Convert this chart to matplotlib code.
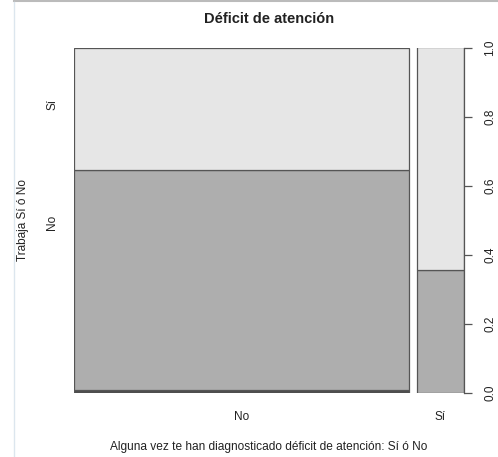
import matplotlib
matplotlib.use("Agg")
import matplotlib.pyplot as plt
from matplotlib.lines import Line2D
import numpy as np

plt.rcParams["font.family"] = ["Liberation Sans", "DejaVu Sans"]

# Counts: rows = level of "Trabaja" (blank, No, Sí), columns = déficit (No, Sí)
x_levels = ["No", "Sí"]
y_levels = ["", "No", "Sí"]
counts = np.array([
    [1, 0],    # blank / NA
    [63, 5],   # No
    [35, 9],   # Sí
])
fills = ["#4D4D4D", "#AEAEAE", "#E6E6E6"]
left_labels = ["No", "Sí"]
left_label_pos = [0.493, 0.835]
yticks = [0.0, 0.2, 0.4, 0.6, 0.8, 1.0]

GAP = 0.02
EDGE = "#555555"
INK = "#222222"

W, H = 498, 457
fig = plt.figure(figsize=(W / 100, H / 100), dpi=100)
ax = fig.add_axes([74 / W, 1 - 393 / H, 390 / W, 345.5 / H])

col_tot = counts.sum(axis=0)
widths = col_tot / col_tot.sum()
lefts = np.concatenate([[0], np.cumsum(widths[:-1] + GAP)])
props = counts / col_tot
bottoms = np.vstack([np.zeros(len(x_levels)), np.cumsum(props, axis=0)[:-1]])

for i in range(len(y_levels)):
    ax.bar(lefts, props[i], width=widths, bottom=bottoms[i], align="edge",
           color=fills[i], edgecolor=EDGE, linewidth=0.9)

ax.set_xlim(0, 1 + GAP * (len(x_levels) - 1))
ax.set_ylim(0, 1)

for s in ("top", "left", "bottom"):
    ax.spines[s].set_visible(False)
ax.spines["right"].set_color(EDGE)
ax.spines["right"].set_linewidth(0.9)

# right axis: proportions
ax.yaxis.tick_right()
ax.set_yticks(yticks)
ax.set_yticklabels([f"{t:.1f}" for t in yticks], rotation=90, va="center",
                   ha="center", fontsize=8.5, color=INK)
ax.tick_params(axis="y", length=6, width=0.9, color=EDGE, pad=13)

# bottom category labels
ax.set_xticks(lefts + widths / 2)
ax.set_xticklabels(x_levels, fontsize=8.5, color=INK)
ax.tick_params(axis="x", length=0, pad=13)

# left category labels
for lab, yp in zip(left_labels, left_label_pos):
    ax.text(-22 / 390 * 1.02, yp, lab, rotation=90, ha="center", va="center",
            fontsize=8.5, color=INK, transform=ax.transData)

fig.text(23 / W, 1 - 220 / H, "Trabaja Sí ó No", rotation=90, ha="center",
         va="center", fontsize=8.5, color=INK)
fig.text(269 / W, 1 - 447 / H,
         "Alguna vez te han diagnosticado déficit de atención: Sí ó No",
         ha="center", va="center", fontsize=8.6, color=INK)
fig.text(269 / W, 1 - 19 / H, "Déficit de atención", ha="center", va="center",
         fontsize=10.5, fontweight="bold", color=INK)

# screenshot frame lines
fig.add_artist(Line2D([14 / W, 1], [1 - 1 / H, 1 - 1 / H], color="#BBBBBB",
                      lw=1.5, transform=fig.transFigure))
fig.add_artist(Line2D([14 / W, 14 / W], [0, 1 - 2 / H], color="#DCE6EE",
                      lw=1, transform=fig.transFigure))

fig.savefig("out.png", dpi=100, facecolor="white")
